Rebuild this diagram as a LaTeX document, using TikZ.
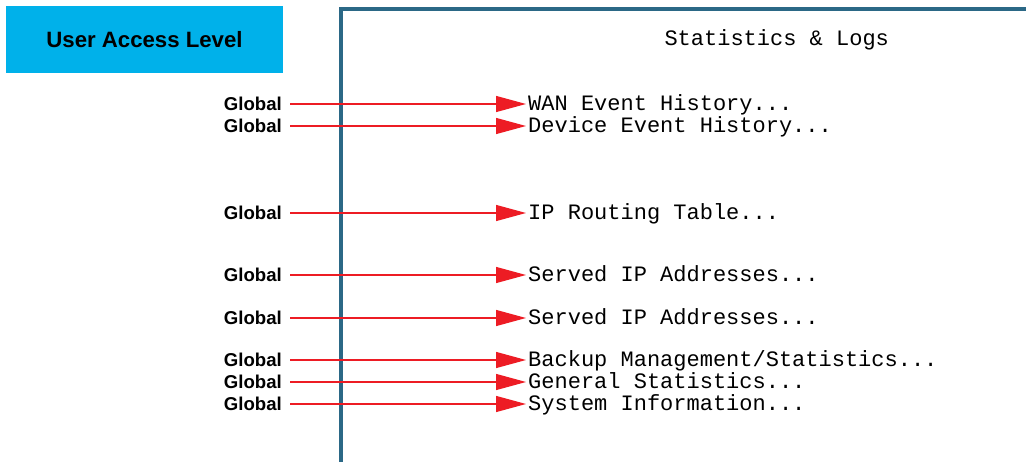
\documentclass[tikz,border=0pt]{standalone}
\usepackage{fontspec}
\setmainfont{Liberation Sans}
\newfontfamily\monofont{Liberation Mono}
\usetikzlibrary{arrows.meta}

\definecolor{headblue}{HTML}{00B1EA}
\definecolor{framecol}{HTML}{2B6886}
\definecolor{arrowred}{HTML}{ED1C24}

\begin{document}
\begin{tikzpicture}[
    x=1pt,y=-1pt,
    >={Triangle[length=30pt,width=16pt]},
    level/.style={font=\fontsize{18.6}{20}\selectfont\bfseries,anchor=east,
        inner xsep=8pt,inner ysep=0pt,text height=13.3pt,text depth=0pt},
    entry/.style={font=\monofont\fontsize{22}{24}\selectfont,anchor=west,
        inner xsep=2pt,inner ysep=0pt,text height=12.5pt,text depth=0pt},
    link/.style={->,arrowred,line width=1.2pt},
]
\useasboundingbox (0,0) rectangle (1026,462);

% Header box
\fill[headblue] (6,6) rectangle (283,73);
\node[font=\fontsize{22.2}{24}\selectfont\bfseries] (head) at (144.5,40) {User Access Level};

% Menu frame
\draw[framecol,line width=3.6pt] (341,462) -- (341,9) -- (1026,9);
\node[font=\monofont\fontsize{22}{24}\selectfont,anchor=base west] (menu) at (661,46) {Statistics \& Logs};

% Menu entries (all end with "...")
\foreach \y/\name/\txt in {104/wan/WAN Event History,
                          126/dev/Device Event History,
                          213/iprt/IP Routing Table,
                          275/srva/Served IP Addresses,
                          318/srvb/Served IP Addresses,
                          360/bkup/{Backup Management/Statistics},
                          382/gen/General Statistics,
                          404/sys/System Information}{
    \node[level] (lvl-\name) at (290,\y) {Global};
    \node[entry] (\name) at (526,\y) {\txt...};
    \draw[link] (lvl-\name.east) -- (lvl-\name.east -| \name.west);
}
\end{tikzpicture}
\end{document}
